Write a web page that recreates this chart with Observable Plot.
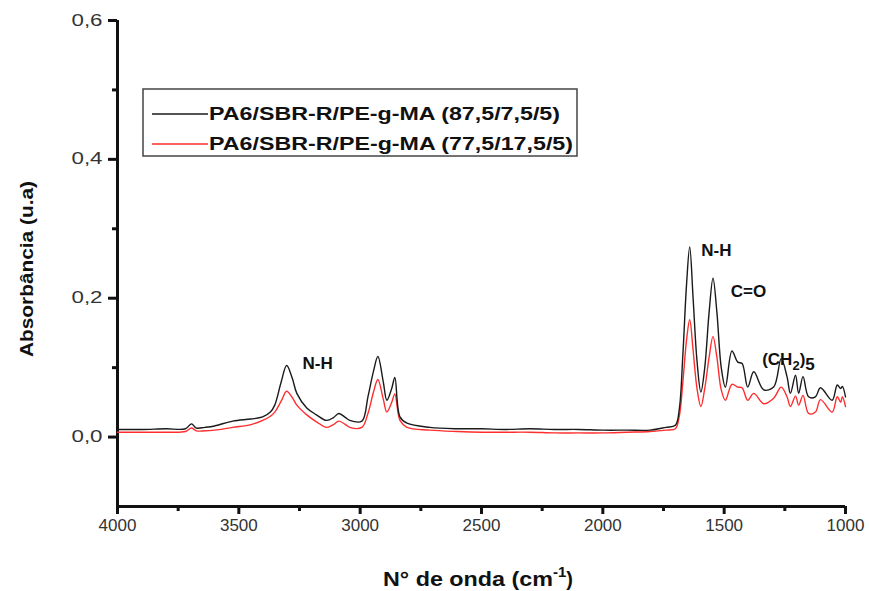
<!DOCTYPE html>
<html>
<head>
<meta charset="utf-8">
<script src="https://cdn.jsdelivr.net/npm/d3@7"></script>
<script src="https://cdn.jsdelivr.net/npm/@observablehq/plot@0.6"></script>
<style>
  body { margin: 0; background: #fff; }
  #chart { width: 869px; height: 591px; }
</style>
</head>
<body>
<div id="chart"></div>
<script>
// ---- data ----
const wavenumber = [4000, 3900, 3800, 3720, 3695, 3675, 3640, 3600, 3525, 3450, 3402, 3370, 3352, 3325, 3303, 3280, 3261, 3220, 3180, 3138, 3110, 3088, 3060, 3043, 2993, 2968, 2945, 2927, 2905, 2890, 2870, 2857, 2836, 2807, 2713, 2600, 2500, 2400, 2300, 2200, 2100, 2000, 1900, 1805, 1740, 1701, 1685, 1670, 1655, 1642, 1628, 1612, 1596, 1580, 1562, 1546, 1530, 1512, 1495, 1468, 1444, 1426, 1403, 1378, 1337, 1296, 1265, 1241, 1227, 1206, 1193, 1175, 1152, 1124, 1103, 1055, 1034, 1020, 1013, 1000];
const absBlack = [0.011, 0.011, 0.012, 0.012, 0.019, 0.013, 0.014, 0.016, 0.023, 0.026, 0.029, 0.036, 0.046, 0.080, 0.103, 0.085, 0.063, 0.042, 0.032, 0.024, 0.028, 0.034, 0.028, 0.024, 0.023, 0.058, 0.095, 0.116, 0.080, 0.053, 0.070, 0.086, 0.029, 0.020, 0.014, 0.012, 0.012, 0.011, 0.012, 0.011, 0.011, 0.010, 0.010, 0.010, 0.014, 0.017, 0.040, 0.120, 0.220, 0.274, 0.200, 0.110, 0.065, 0.100, 0.180, 0.229, 0.180, 0.100, 0.072, 0.124, 0.108, 0.106, 0.072, 0.094, 0.068, 0.072, 0.113, 0.087, 0.063, 0.089, 0.063, 0.087, 0.058, 0.058, 0.071, 0.053, 0.075, 0.070, 0.073, 0.058];
const absRed = [0.007, 0.007, 0.007, 0.008, 0.013, 0.009, 0.009, 0.010, 0.014, 0.018, 0.024, 0.030, 0.036, 0.052, 0.066, 0.057, 0.046, 0.032, 0.022, 0.014, 0.018, 0.023, 0.018, 0.014, 0.014, 0.034, 0.065, 0.083, 0.055, 0.036, 0.050, 0.062, 0.024, 0.014, 0.010, 0.008, 0.007, 0.007, 0.007, 0.006, 0.006, 0.006, 0.007, 0.008, 0.010, 0.012, 0.030, 0.080, 0.140, 0.169, 0.125, 0.070, 0.044, 0.070, 0.115, 0.145, 0.115, 0.068, 0.053, 0.076, 0.072, 0.071, 0.053, 0.063, 0.048, 0.056, 0.072, 0.058, 0.044, 0.059, 0.046, 0.060, 0.034, 0.036, 0.054, 0.036, 0.058, 0.050, 0.058, 0.044];

const seriesNames = ["PA6/SBR-R/PE-g-MA (87,5/7,5/5)", "PA6/SBR-R/PE-g-MA (77,5/17,5/5)"];
const seriesColors = ["#1a1a1a", "#ff2e2e"];

const xTicks = [4000, 3500, 3000, 2500, 2000, 1500, 1000];
const xMinorTicks = [3750, 3250, 2750, 2250, 1750, 1250];
const yTicks = [0, 0.2, 0.4, 0.6];
const yMinorTicks = [0.1, 0.3, 0.5];

const annLabels = ["N-H", "N-H", "C=O", "(CH2)5"];
const annWavenumber = [3175, 1532, 1400, 1235];
const annAbs = [0.106, 0.268, 0.210, 0.111];
const annAnchor = ["middle", "middle", "middle", "start"];

const yTitle = "Absorbância (u.a)";
const xTitle = "N° de onda (cm";

// ---- tables built from the arrays ----
const rows = [];
seriesNames.slice().reverse().forEach((name) => {
  const vals = name === seriesNames[0] ? absBlack : absRed;
  wavenumber.forEach((w, i) => rows.push({ w, v: vals[i], s: name }));
});
const ann = annLabels.map((t, i) => ({ t, w: annWavenumber[i], v: annAbs[i], a: annAnchor[i] }));

const font = "'Liberation Sans', Arial, Helvetica, sans-serif";
const fmt = (d) => d.toFixed(1).replace(".", ",");
const axisW = 3;

const chart = Plot.plot({
  width: 869,
  height: 591,
  marginLeft: 117,
  marginRight: 24,
  marginTop: 20,
  marginBottom: 85,
  style: { fontFamily: font, background: "#fff", color: "#111" },
  x: { domain: [4000, 1000], label: null },
  y: { domain: [-0.1, 0.6], label: null },
  color: { domain: seriesNames, range: seriesColors },
  marks: [
    // major ticks with labels, minor ticks without
    Plot.axisX(xTicks, { tickSize: 8, tickPadding: 4, strokeWidth: axisW, stroke: "#111", tickFormat: (d) => String(d), fontSize: 17, fill: "#333", label: null }),
    Plot.axisX(xMinorTicks, { tickSize: 5, strokeWidth: axisW, stroke: "#111", tickFormat: () => "", label: null }),
    Plot.axisY(yTicks, { tickSize: 9, tickPadding: 6, strokeWidth: axisW, stroke: "#111", tickFormat: fmt, fontSize: 16, fill: "#333", label: null }),
    Plot.axisY(yMinorTicks, { tickSize: 5, strokeWidth: axisW, stroke: "#111", tickFormat: () => "", label: null }),
    // axis lines
    Plot.ruleX([4000], { stroke: "#111", strokeWidth: axisW }),
    Plot.ruleY([-0.1], { stroke: "#111", strokeWidth: axisW }),
    // spectra
    Plot.line(rows, { x: "w", y: "v", z: "s", stroke: "s", strokeWidth: 1.4, curve: "catmull-rom" }),
    // annotations
    Plot.text(ann, { x: "w", y: "v", text: "t", textAnchor: "a", fontWeight: "bold", fontSize: 17, fill: "#111" })
  ]
});

document.getElementById("chart").appendChild(chart);
const svg = d3.select(chart);

// stretch y tick labels a bit like the reference
svg.selectAll('g[aria-label="y-axis tick label"] text').each(function () {
  if (this.textContent) d3.select(this).attr("textLength", 31).attr("lengthAdjust", "spacingAndGlyphs");
});

// (CH2)5 with subscripts
svg.selectAll("text").each(function () {
  if (this.textContent === "(CH2)5") {
    const el = d3.select(this);
    el.text(null);
    el.append("tspan").text("(CH");
    el.append("tspan").attr("dy", 5).attr("font-size", 13).text("2");
    el.append("tspan").attr("dy", -5).text(")");
    el.append("tspan").attr("dy", 5).text("5");
  }
});

// axis titles
svg.append("text")
  .attr("transform", "translate(28,269) rotate(-90)")
  .attr("text-anchor", "middle").attr("dominant-baseline", "middle")
  .attr("font-family", font).attr("font-weight", "bold").attr("font-size", 19).attr("fill", "#111")
  .attr("textLength", 176).attr("lengthAdjust", "spacingAndGlyphs")
  .text(yTitle);

const xt = svg.append("text")
  .attr("x", 383).attr("y", 586)
  .attr("text-anchor", "start")
  .attr("font-family", font).attr("font-weight", "bold").attr("font-size", 20).attr("fill", "#111");
xt.append("tspan").attr("textLength", 170).attr("lengthAdjust", "spacingAndGlyphs").text(xTitle);
xt.append("tspan").attr("dy", -9).attr("font-size", 15).text("-1");
xt.append("tspan").attr("dy", 9).text(")");

// legend
const lg = svg.append("g").attr("font-family", font).attr("text-anchor", "start");
lg.append("rect").attr("x", 143).attr("y", 89).attr("width", 434).attr("height", 67)
  .attr("fill", "#fff").attr("stroke", "#444").attr("stroke-width", 1.5);
seriesNames.forEach((name, i) => {
  const y = 114 + i * 30;
  lg.append("line").attr("x1", 152).attr("x2", 208).attr("y1", y).attr("y2", y)
    .attr("stroke", seriesColors[i]).attr("stroke-width", 1.4);
  lg.append("text").attr("x", 209).attr("y", y).attr("dy", "0.35em")
    .attr("text-anchor", "start")
    .attr("font-weight", "bold").attr("font-size", 18).attr("fill", "#111")
    .attr("textLength", i === 0 ? 351 : 364).attr("lengthAdjust", "spacingAndGlyphs")
    .text(name);
});
</script>
</body>
</html>
